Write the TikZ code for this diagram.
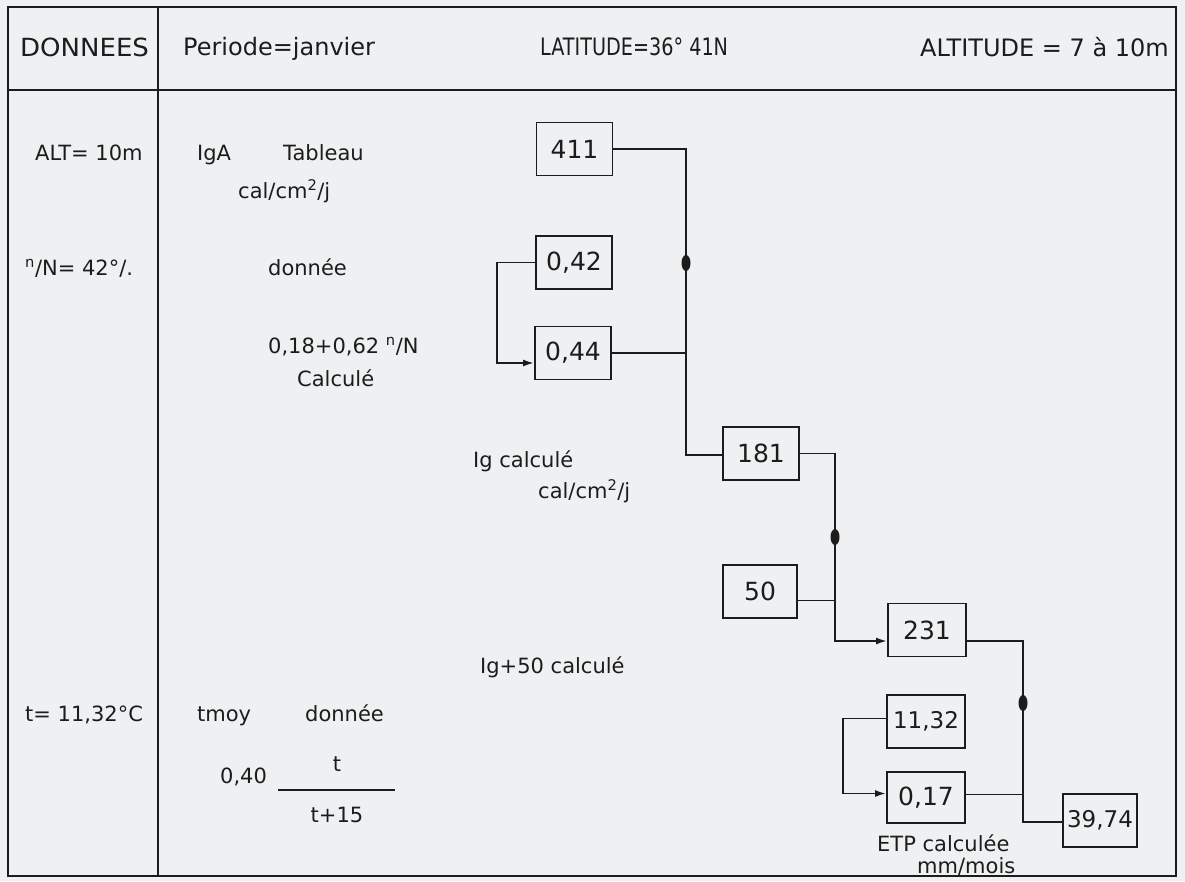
\documentclass[tikz,border=0pt]{standalone}
\usepackage{fontspec}
\setmainfont{DejaVu Sans}
\usetikzlibrary{shapes.geometric,arrows.meta,calc}
\definecolor{bgc}{RGB}{238,240,241}
\definecolor{ink}{RGB}{28,28,28}
\begin{document}
\begin{tikzpicture}[x=1pt,y=-1pt,
  box/.style={draw=ink, line width=1.9pt, minimum width=76pt, minimum height=53pt, inner sep=0pt, text=ink, font=\fontsize{25}{28}\selectfont},
  txt/.style={anchor=base west, inner sep=0pt, text=ink, font=\fontsize{21}{24}\selectfont},
  hdr/.style={anchor=base west, inner sep=0pt, text=ink, font=\fontsize{24}{27}\selectfont},
  wire/.style={draw=ink, line width=1.9pt},
  arr/.style={wire, -{Latex[length=11pt,width=7pt]}},
  bead/.style={ellipse, fill=ink, minimum width=9pt, minimum height=16pt, inner sep=0pt},
  frame/.style={draw=ink, line width=2pt}]
\fill[bgc] (0,0) rectangle (1185,881);
\useasboundingbox (0,0) rectangle (1185,881);
% table frame
\draw[frame] (8,7) rectangle (1176,876);
\draw[frame] (8,90) -- (1176,90);
\draw[frame] (158,7) -- (158,876);
% header
\node[hdr, font=\fontsize{25}{28}\selectfont] (h1) at (20,56) {\scalebox{1.04}[1]{DONNEES}};
\node[hdr] (h2) at (183,55) {Periode=janvier};
\node[hdr] (h3) at (540,55) {\scalebox{0.8}[1]{LATITUDE=36° 41N}};
\node[hdr] (h4) at (920,56) {ALTITUDE = 7 à 10m};
% column 1
\node[txt] (d1) at (35,160) {ALT= 10m};
\node[txt] (d2) at (25,275) {\textsuperscript{n}/N= 42°/.};
\node[txt] (d3) at (25,721) {t= 11,32°C};
% column 2 texts
\node[txt] (c1) at (197,160) {IgA};
\node[txt] (c2) at (283,160) {Tableau};
\node[txt] (c3) at (238,198) {cal/cm\textsuperscript{2}/j};
\node[txt] (c4) at (268,275) {donnée};
\node[txt] (c5) at (268,353) {0,18+0,62 \textsuperscript{n}/N};
\node[txt] (c6) at (297,386) {Calculé};
\node[txt] (c7) at (473,467) {Ig calculé};
\node[txt] (c8) at (538,498) {cal/cm\textsuperscript{2}/j};
\node[txt] (c9) at (480,673) {Ig+50 calculé};
\node[txt] (c10) at (197,721) {tmoy};
\node[txt] (c11) at (305,721) {donnée};
\node[txt] (c12) at (220,783) {0,40};
\node[txt, anchor=base] (fn) at (337,771) {t};
\node[txt, anchor=base] (fd) at (337,822) {t+15};
\draw[wire, line width=1.5pt] (278,790) -- (395,790);
\node[txt] (e1) at (877,851) {ETP calculée};
\node[txt] (e2) at (917,873) {mm/mois};
% boxes
\node[box] (b411) at (574.5,149) {411};
\node[box] (b042) at (574,262.5) {0,42};
\node[box] (b044) at (573,353) {0,44};
\node[box] (b181) at (761,453.5) {181};
\node[box, minimum width=74pt] (b50) at (760,591.5) {50};
\node[box, minimum width=78pt] (b231) at (927,630) {231};
\node[box, minimum width=78pt, font=\fontsize{23}{26}\selectfont] (b1132) at (926,721.5) {11,32};
\node[box, minimum width=78pt, minimum height=51pt] (b017) at (926,797.5) {0,17};
\node[box, minimum width=74pt, font=\fontsize{23}{26}\selectfont] (b3974) at (1100,820.5) {39,74};
% junction points
\coordinate (j1) at (686,455);
\coordinate (j2) at (835,641);
\coordinate (j3) at (1023,822);
\coordinate (p50) at ($(b50.east)+(0,9)$);
\coordinate (p231) at ($(b231.east)+(0,11)$);
\coordinate (p017) at ($(b017.east)+(0,-3)$);
\coordinate (p1132) at ($(b1132.west)+(0,-3)$);
\coordinate (q017) at ($(b017.west)+(0,-4)$);
\coordinate (q044) at ($(b044.west)+(0,10)$);
% connectors
\draw[wire] (b411.east) -| (j1) -- (j1 -| b181.west);
\draw[wire] (b044.east) -- (b044.east -| j1);
\draw[arr] (b042.west) -- ++(-38,0) |- (q044);
\draw[arr] (b181.east) -| (j2) -- (j2 -| b231.west);
\draw[wire] (p50) -- (p50 -| j2);
\draw[wire] (p231) -| (j3) -- (j3 -| b3974.west);
\draw[wire] (p017) -- (p017 -| j3);
\draw[arr] (p1132) -- ++(-43,0) |- (q017);
% beads
\node[bead] (bd1) at (686,263) {};
\node[bead] (bd2) at (835,537) {};
\node[bead] (bd3) at (1023,703) {};
\end{tikzpicture}
\end{document}
